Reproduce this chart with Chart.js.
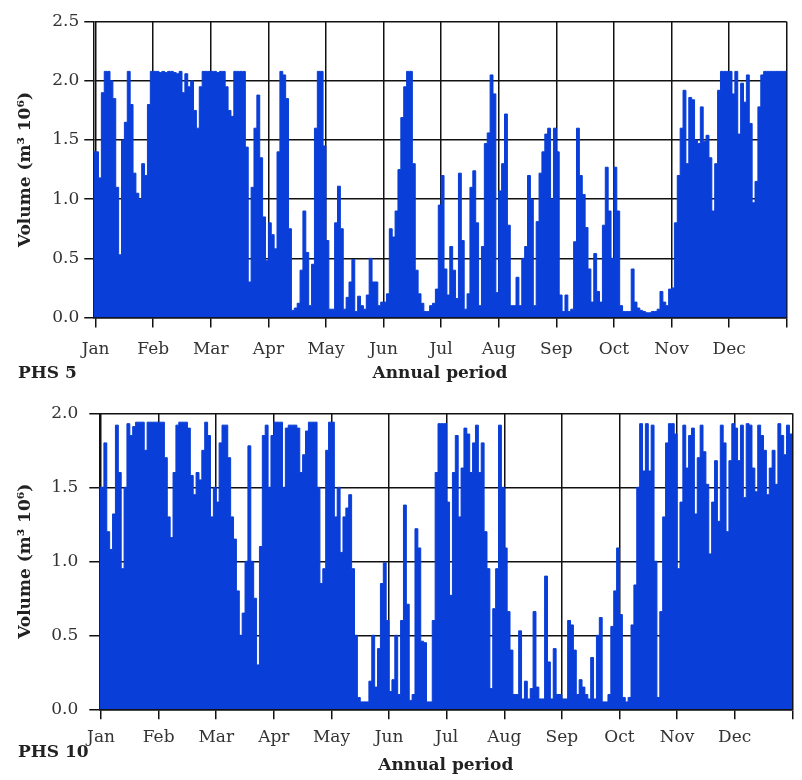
<!DOCTYPE html>
<html>
<head>
<meta charset="utf-8">
<script src="https://cdn.jsdelivr.net/npm/chart.js@4.4.0/dist/chart.umd.min.js"></script>
<style>
  body { margin: 0; background: #fff; width: 802px; height: 780px; position: relative; overflow: hidden; }
  canvas { position: absolute; left: 0; }
  #c5 { top: 0; }
  #c10 { top: 390px; }
  .tag { position: absolute; font: bold 17px "DejaVu Serif", serif; color: #222; }
</style>
</head>
<body>
<canvas id="c5" width="802" height="390"></canvas>
<canvas id="c10" width="802" height="390"></canvas>
<div class="tag" style="left:18px;top:362px">PHS 5</div>
<div class="tag" style="left:18px;top:741px">PHS 10</div>
<script>
  const months = ["Jan", "Feb", "Mar", "Apr", "May", "Jun", "Jul", "Aug", "Sep", "Oct", "Nov", "Dec"];
  const monthTicks = [0, 1, 2, 3, 4, 5, 6, 7, 8, 9, 10, 11, 12];
  const stepsPerMonth = 20;

  // stored volume, m3 10^6 (20 readings per month)
  const phs5 = [
    1.40, 1.18, 1.90, 2.08, 2.08, 2.00, 1.85, 1.10, 0.53, 1.50, 1.65, 2.08, 1.80, 1.22, 1.05, 1.00, 1.30, 1.20, 1.80, 2.08,
    2.08, 2.08, 2.07, 2.08, 2.07, 2.08, 2.08, 2.07, 2.06, 2.08, 1.90, 2.06, 1.95, 2.00, 1.75, 1.60, 1.95, 2.08, 2.08, 2.08,
    2.08, 2.08, 2.07, 2.08, 2.08, 1.95, 1.75, 1.70, 2.08, 2.08, 2.08, 2.08, 1.44, 0.30, 1.10, 1.60, 1.88, 1.35, 0.85, 0.48,
    0.80, 0.70, 0.58, 1.40, 2.08, 2.05, 1.85, 0.75, 0.06, 0.08, 0.12, 0.40, 0.90, 0.55, 0.10, 0.45, 1.60, 2.08, 2.08, 1.45,
    0.65, 0.07, 0.07, 0.80, 1.11, 0.75, 0.07, 0.17, 0.30, 0.49, 0.05, 0.18, 0.10, 0.07, 0.19, 0.50, 0.30, 0.30, 0.10, 0.13,
    0.13, 0.20, 0.75, 0.68, 0.90, 1.25, 1.69, 1.95, 2.08, 2.08, 1.30, 0.40, 0.20, 0.12, 0.05, 0.05, 0.10, 0.12, 0.24, 0.95,
    1.20, 0.41, 0.19, 0.60, 0.40, 0.16, 1.22, 0.65, 0.07, 0.20, 1.10, 1.24, 0.80, 0.10, 0.60, 1.47, 1.56, 2.05, 1.89, 0.21,
    1.07, 1.30, 1.72, 0.78, 0.10, 0.10, 0.34, 0.10, 0.50, 0.60, 1.20, 1.00, 0.10, 0.81, 1.22, 1.40, 1.55, 1.60, 1.00, 1.60,
    1.40, 0.19, 0.05, 0.19, 0.05, 0.07, 0.64, 1.60, 1.20, 1.04, 0.76, 0.41, 0.13, 0.54, 0.22, 0.13, 0.78, 1.27, 0.90, 0.50,
    1.27, 0.90, 0.10, 0.05, 0.05, 0.05, 0.41, 0.13, 0.08, 0.06, 0.05, 0.04, 0.04, 0.05, 0.05, 0.07, 0.22, 0.13, 0.10, 0.24,
    0.25, 0.80, 1.20, 1.60, 1.92, 1.30, 1.86, 1.84, 1.50, 1.47, 1.78, 1.49, 1.54, 1.35, 0.90, 1.30, 1.92, 2.08, 2.08, 2.08,
    2.08, 1.89, 2.08, 1.55, 1.98, 1.82, 2.05, 1.64, 0.97, 1.15, 1.78, 2.05, 2.08, 2.08, 2.08, 2.08, 2.08, 2.08, 2.08, 2.08
  ];

  const phs10 = [
    1.50, 1.80, 1.20, 1.08, 1.32, 1.92, 1.60, 0.95, 1.50, 1.93, 1.85, 1.91, 1.94, 1.94, 1.94, 1.75, 1.94, 1.94, 1.94, 1.94,
    1.94, 1.94, 1.70, 1.30, 1.16, 1.60, 1.92, 1.94, 1.94, 1.94, 1.90, 1.58, 1.45, 1.60, 1.55, 1.75, 1.94, 1.85, 1.30, 1.50,
    1.40, 1.80, 1.92, 1.92, 1.70, 1.30, 1.15, 0.80, 0.50, 0.65, 1.00, 1.78, 1.00, 0.75, 0.30, 1.10, 1.85, 1.92, 1.50, 1.85,
    1.94, 1.94, 1.94, 1.50, 1.90, 1.92, 1.92, 1.92, 1.90, 1.60, 1.72, 1.88, 1.94, 1.94, 1.94, 1.50, 0.85, 0.95, 1.75, 1.94,
    1.94, 1.30, 1.50, 1.06, 1.30, 1.36, 1.45, 0.95, 0.50, 0.08, 0.05, 0.05, 0.05, 0.19, 0.50, 0.15, 0.41, 0.85, 0.99, 0.60,
    0.12, 0.20, 0.50, 0.10, 0.60, 1.38, 0.71, 0.06, 0.10, 1.22, 1.09, 0.46, 0.45, 0.05, 0.05, 0.60, 1.60, 1.93, 1.93, 1.93,
    1.40, 0.77, 1.60, 1.85, 1.30, 1.63, 1.90, 1.86, 1.60, 1.80, 1.92, 1.60, 1.80, 1.20, 0.95, 0.14, 0.68, 0.95, 1.92, 1.50,
    1.09, 0.66, 0.40, 0.10, 0.10, 0.53, 0.07, 0.19, 0.07, 0.14, 0.66, 0.15, 0.07, 0.07, 0.90, 0.32, 0.07, 0.41, 0.10, 0.10,
    0.07, 0.07, 0.60, 0.57, 0.40, 0.10, 0.20, 0.15, 0.10, 0.07, 0.35, 0.07, 0.50, 0.62, 0.05, 0.05, 0.10, 0.56, 0.80, 1.09,
    0.64, 0.08, 0.05, 0.08, 0.57, 0.84, 1.50, 1.93, 1.61, 1.93, 1.61, 1.92, 1.00, 0.08, 0.66, 1.30, 1.80, 1.93, 1.93, 1.86,
    0.95, 1.40, 1.92, 1.63, 1.85, 1.90, 1.32, 1.70, 1.92, 1.74, 1.52, 1.05, 1.40, 1.68, 1.27, 1.92, 1.80, 1.20, 1.68, 1.93,
    1.90, 1.68, 1.92, 1.43, 1.93, 1.92, 1.63, 1.47, 1.92, 1.85, 1.75, 1.45, 1.63, 1.75, 1.52, 1.93, 1.85, 1.72, 1.92, 1.86
  ];

  const yTicks5 = [0, 0.5, 1.0, 1.5, 2.0, 2.5];
  const yTicks10 = [0, 0.5, 1.0, 1.5, 2.0];

  const blue = "#0a3ed8";
  const ink = "#111";
  const textColor = "#333";
  const tickFont = { family: "DejaVu Serif", size: 17 };
  const titleFont = { family: "DejaVu Serif", size: 17, weight: "bold" };

  function toPoints(values, xMin) {
    const pts = values.map((v, i) => ({ x: i === 0 ? xMin : i / stepsPerMonth, y: v }));
    pts.push({ x: months.length, y: values[values.length - 1] });
    return pts;
  }

  function makeChart(id, values, yTicks, g) {
    const ctx = document.getElementById(id).getContext("2d");
    return new Chart(ctx, {
      type: "line",
      data: {
        datasets: [{
          data: toPoints(values, g.xMin),
          stepped: true,
          fill: "origin",
          backgroundColor: blue,
          borderColor: blue,
          borderWidth: 1,
          pointRadius: 0
        }]
      },
      options: {
        responsive: false,
        animation: false,
        events: [],
        layout: { padding: { top: g.top, right: 802 - g.right, bottom: g.padBottom, left: 0 } },
        plugins: { legend: { display: false }, tooltip: { enabled: false } },
        scales: {
          x: {
            type: "linear",
            min: g.xMin,
            max: months.length,
            z: 1,
            afterBuildTicks: s => { s.ticks = monthTicks.map(v => ({ value: v })); },
            afterFit: s => { s.height = 390 - g.padBottom - g.bottom; },
            grid: { color: ink, lineWidth: 1.5, tickLength: 10 },
            border: { color: ink, width: 1.5 },
            ticks: {
              callback: v => months[v] || "",
              font: tickFont, color: textColor, padding: g.xPad,
              maxRotation: 0, autoSkip: false
            },
            title: { display: true, text: "Annual period", font: titleFont, color: "#222", padding: { top: 0, bottom: 2 } }
          },
          y: {
            min: 0,
            max: yTicks[yTicks.length - 1],
            z: 1,
            afterBuildTicks: s => { s.ticks = yTicks.map(v => ({ value: v })); },
            afterFit: s => { s.width = g.left; },
            grid: { color: ink, lineWidth: 1.5, tickLength: g.yTick },
            border: { color: ink, width: 1.5 },
            ticks: { callback: v => v.toFixed(1), font: tickFont, color: textColor, padding: g.yPad },
            title: { display: true, text: "Volume (m³ 10⁶)", font: titleFont, color: "#222", padding: { top: 15, bottom: 0 } }
          }
        }
      }
    });
  }

  makeChart("c5", phs5, yTicks5, { top: 21.7, bottom: 317.5, left: 93.3, right: 786.7, padBottom: 4, xPad: 12, yTick: 9, yPad: 5, xMin: -0.04 });
  makeChart("c10", phs10, yTicks10, { top: 23.3, bottom: 319.3, left: 99.3, right: 792.3, padBottom: 2, xPad: 8.5, yTick: 10, yPad: 11, xMin: -0.03 });
</script>
</body>
</html>
